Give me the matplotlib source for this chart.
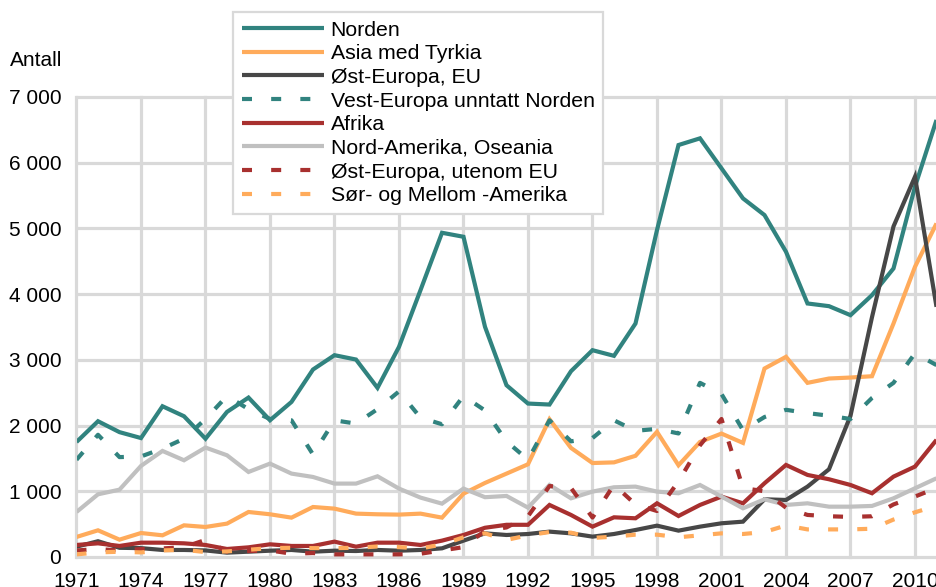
import matplotlib
matplotlib.use("Agg")
import matplotlib.pyplot as plt
import numpy as np

plt.rcParams['font.family'] = ['Liberation Sans', 'DejaVu Sans']
plt.rcParams['savefig.bbox'] = 'standard'

years = list(range(1971, 2012))

norden = [1750, 2066, 1900, 1810, 2294, 2142, 1800, 2208, 2426, 2081,
          2360, 2853, 3071, 3005, 2574, 3198, 4061, 4934, 4873, 3503,
          2614, 2335, 2320, 2827, 3147, 3061, 3553, 4975, 6269, 6371,
          5914, 5457, 5203, 4645, 3858, 3817, 3680, 3985, 4391, 5635, 6650]
asia = [305, 406, 264, 365, 330, 482, 457, 508, 685, 650,
        599, 761, 736, 660, 650, 645, 660, 599, 964, 1127,
        1269, 1411, 2096, 1660, 1430, 1440, 1540, 1904, 1396, 1751,
        1878, 1736, 2868, 3046, 2650, 2716, 2731, 2751, 3553, 4416, 5076]
ost_eu = [157, 240, 140, 135, 107, 107, 100, 66, 81, 96,
          107, 81, 96, 91, 107, 96, 107, 132, 249, 360,
          335, 350, 386, 360, 310, 350, 411, 477, 401, 462,
          513, 538, 878, 868, 1071, 1335, 2150, 3650, 5030, 5787, 3807]
vest = [1480, 1860, 1520, 1530, 1650, 1800, 2100, 2450, 2250, 2100,
        2080, 1560, 2080, 2030, 2250, 2520, 2120, 2020, 2450, 2230,
        1760, 1480, 2080, 1760, 1810, 2080, 1920, 1950, 1880, 2650,
        2480, 1930, 2130, 2240, 2190, 2150, 2100, 2420, 2650, 3100, 2920]
afrika = [183, 208, 168, 218, 218, 208, 183, 122, 147, 193,
          168, 168, 234, 157, 218, 218, 183, 249, 335, 445,
          490, 490, 792, 640, 462, 604, 589, 817, 624, 792,
          919, 817, 1122, 1401, 1249, 1183, 1096, 970, 1223, 1376, 1782]
nordam = [685, 954, 1025, 1386, 1614, 1472, 1665, 1548, 1294, 1421,
          1269, 1218, 1117, 1117, 1228, 1041, 904, 812, 1041, 910,
          929, 751, 1096, 893, 995, 1061, 1071, 995, 970, 1096,
          919, 741, 878, 792, 817, 766, 766, 777, 893, 1046, 1198]
ost_utenom = [100, 120, 100, 120, 130, 150, 260, 80, 90, 100,
              50, 60, 40, 40, 40, 40, 50, 100, 150, 400,
              450, 620, 1080, 1050, 600, 1100, 800, 700, 1150, 1700,
              2100, 1050, 1000, 750, 640, 620, 610, 620, 800, 920, 1050]
sor = [40, 70, 80, 70, 100, 110, 75, 85, 110, 135,
       140, 135, 135, 140, 160, 150, 130, 190, 300, 360,
       260, 330, 380, 370, 290, 310, 340, 340, 300, 330,
       360, 350, 380, 480, 420, 420, 420, 430, 570, 680, 780]

labels = ["Norden", "Asia med Tyrkia", "Øst-Europa, EU", "Vest-Europa unntatt Norden",
          "Afrika", "Nord-Amerika, Oseania", "Øst-Europa, utenom EU", "Sør- og Mellom -Amerika"]
series = [norden, asia, ost_eu, vest, afrika, nordam, ost_utenom, sor]
colors = ["#31837f", "#ffab5b", "#474747", "#31837f", "#a8302f", "#c0c0c0", "#a8302f", "#ffab5b"]
dashed = [False, False, False, True, False, False, True, True]

yticks = [0, 1000, 2000, 3000, 4000, 5000, 6000, 7000]
ytick_labels = ["0", "1 000", "2 000", "3 000", "4 000", "5 000", "6 000", "7 000"]
xticks = list(range(1971, 2011, 3))

W, H = 936, 587
fig = plt.figure(figsize=(W / 100, H / 100), dpi=100)
left_px, right_px, top_px, bot_px = 76.5, 936.0, 97.0, 557.0
ax = fig.add_axes([left_px / W, 1 - bot_px / H, (right_px - left_px) / W, (bot_px - top_px) / H])
ax.set_xlim(1971, 1971 + (right_px - left_px) / 21.5)
ax.set_ylim(0, 7000)

for s, lab, c, d in zip(series, labels, colors, dashed):
    ln, = ax.plot(years, s, color=c, lw=3.0, label=lab, solid_capstyle='butt',
                  solid_joinstyle='miter', dash_capstyle='butt')
    if d:
        ln.set_dashes((2.4, 4.6))

ax.set_xticks(xticks)
ax.set_xticklabels([str(x) for x in xticks])
ax.set_yticks(yticks)
ax.set_yticklabels(ytick_labels)
ax.tick_params(length=0, labelsize=15, colors='black')
ax.tick_params(axis='y', pad=11)
ax.tick_params(axis='x', pad=11)
ax.grid(True, color='#d9d9d9', lw=2.3)
ax.set_axisbelow(True)
for gl in ax.get_xgridlines() + ax.get_ygridlines():
    gl.set_clip_on(False)
for sp in ax.spines.values():
    sp.set_visible(False)

fig.text(10 / W, 1 - 61 / H, "Antall", fontsize=15, ha='left', va='center')

leg = ax.legend(loc='upper left', bbox_to_anchor=(233 / W, 1 - 12 / H),
                bbox_transform=fig.transFigure, fontsize=15.3, frameon=True,
                fancybox=False, borderaxespad=0, labelspacing=0.22,
                handlelength=3.9, handletextpad=0.3, borderpad=0.4)
fr = leg.get_frame()
fr.set_edgecolor('#d9d9d9')
fr.set_linewidth(1.6)
fr.set_facecolor('white')
fr.set_alpha(1)

fig.savefig("out.png", dpi=100)
